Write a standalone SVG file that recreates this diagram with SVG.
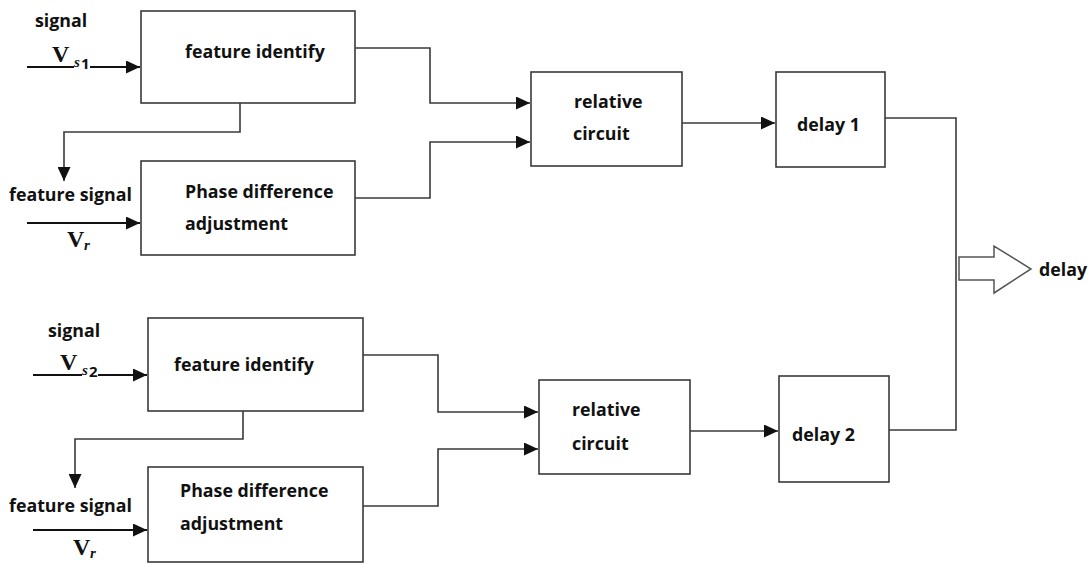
<svg xmlns="http://www.w3.org/2000/svg" width="1090" height="563" viewBox="0 0 1090 563">
<style>
.box{fill:#fff;stroke:#3a3a3a;stroke-width:1.6}
.lbl{font-family:"Open Sans",Lato,sans-serif;font-weight:bold;font-size:17.8px;fill:#111}
.v{font-family:"Liberation Serif",serif;font-weight:bold;font-size:24px;fill:#111}
.sub{font-family:"Liberation Serif",serif;font-style:italic;font-weight:bold;font-size:15px;fill:#111}
.subn{font-family:"Open Sans",sans-serif;font-weight:bold;font-size:15px;fill:#111}
.wire{fill:none;stroke:#3a3a3a;stroke-width:1.6}
.inw{fill:none;stroke:#111;stroke-width:2}
</style>
<defs>
<marker id="ah" markerUnits="userSpaceOnUse" markerWidth="15" markerHeight="13" refX="14" refY="6.5" orient="auto">
<path d="M0,0 L14,6.5 L0,13 z" fill="#111"/>
</marker>
</defs>
<rect width="1090" height="563" fill="#fff"/>

<g id="connectors">
<line class="inw" x1="27" y1="67" x2="140" y2="67" marker-end="url(#ah)"/>
<line class="inw" x1="27" y1="223" x2="140" y2="223" marker-end="url(#ah)"/>
<polyline class="wire" points="240,103 240,132 64,132 64,181" marker-end="url(#ah)"/>
<polyline class="wire" points="355,48 430,48 430,103 530,103" marker-end="url(#ah)"/>
<polyline class="wire" points="355,198 430,198 430,142 530,142" marker-end="url(#ah)"/>
<line class="wire" x1="682" y1="123" x2="775" y2="123" marker-end="url(#ah)"/>
<polyline class="wire" points="885,118 956,118 956,430 889,430"/>
<line class="inw" x1="33" y1="375" x2="147" y2="375" marker-end="url(#ah)"/>
<line class="inw" x1="33" y1="530" x2="147" y2="530" marker-end="url(#ah)"/>
<polyline class="wire" points="243,411 243,439 75,439 75,488" marker-end="url(#ah)"/>
<polyline class="wire" points="363,355 438,355 438,412 538,412" marker-end="url(#ah)"/>
<polyline class="wire" points="363,506 438,506 438,449 538,449" marker-end="url(#ah)"/>
<line class="wire" x1="690" y1="431" x2="778" y2="431" marker-end="url(#ah)"/>
<polygon points="959,257 994,257 994,246 1031,269 994,293 994,280 959,280" fill="#fff" stroke="#555" stroke-width="1.5"/>
</g>

<g id="in-signal1">
<text class="lbl" x="35" y="27">signal</text>
<rect x="74" y="60" width="16" height="12" fill="#fff"/>
<text class="v" x="52" y="62">V</text>
<text class="sub" x="74" y="67">s</text><text class="subn" x="81" y="69">1</text>
</g>
<g id="in-vr1">
<text class="lbl" x="9" y="201">feature signal</text>
<text class="v" x="67" y="247">V</text><text class="sub" x="84" y="250">r</text>
</g>
<g id="fi1"><rect class="box" x="141" y="11" width="214" height="92"/>
<text class="lbl" x="185" y="58">feature identify</text></g>
<g id="pd1"><rect class="box" x="141" y="161" width="214" height="94"/>
<text class="lbl" x="185" y="198">Phase difference</text>
<text class="lbl" x="185" y="230">adjustment</text></g>
<g id="rc1"><rect class="box" x="531" y="72" width="151" height="94"/>
<text class="lbl" x="574" y="108">relative</text>
<text class="lbl" x="573" y="140">circuit</text></g>
<g id="d1"><rect class="box" x="776" y="72" width="109" height="95"/>
<text class="lbl" x="797" y="131">delay 1</text></g>

<g id="in-signal2">
<text class="lbl" x="48" y="337">signal</text>
<rect x="82" y="368" width="16" height="12" fill="#fff"/>
<text class="v" x="60" y="370">V</text>
<text class="sub" x="82" y="375">s</text><text class="subn" x="89" y="377">2</text>
</g>
<g id="in-vr2">
<text class="lbl" x="9" y="512">feature signal</text>
<text class="v" x="73" y="555">V</text><text class="sub" x="90" y="558">r</text>
</g>
<g id="fi2"><rect class="box" x="148" y="318" width="215" height="93"/>
<text class="lbl" x="174" y="371">feature identify</text></g>
<g id="pd2"><rect class="box" x="148" y="467" width="215" height="95"/>
<text class="lbl" x="180" y="497">Phase difference</text>
<text class="lbl" x="180" y="530">adjustment</text></g>
<g id="rc2"><rect class="box" x="539" y="380" width="151" height="94"/>
<text class="lbl" x="572" y="416">relative</text>
<text class="lbl" x="572" y="450">circuit</text></g>
<g id="d2"><rect class="box" x="779" y="376" width="110" height="106"/>
<text class="lbl" x="792" y="441">delay 2</text></g>

<g id="out"><text class="lbl" x="1039" y="276">delay</text></g>
</svg>
